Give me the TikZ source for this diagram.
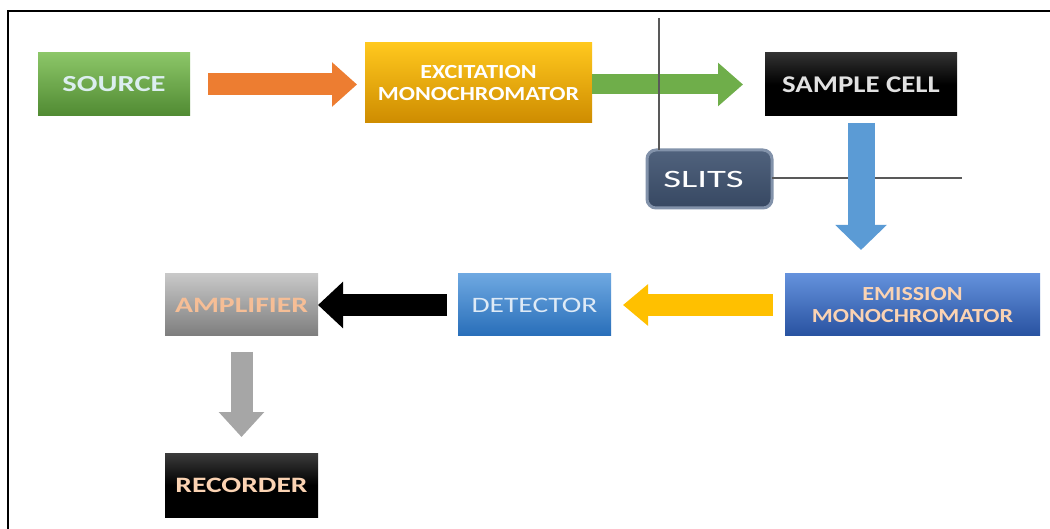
\documentclass[tikz,border=0pt]{standalone}
\usepackage{fontspec}
\setmainfont{Carlito}
\usepackage{graphicx}
\usetikzlibrary{arrows.meta}
\newcommand\hstr[2][1.3]{\scalebox{#1}[1]{#2}}
\definecolor{lineg}{HTML}{595959}
\definecolor{orng}{HTML}{ED7D31}
\definecolor{grn}{HTML}{6FAE4A}
\definecolor{blu}{HTML}{5B9BD5}
\definecolor{yel}{HTML}{FFC000}
\definecolor{gry}{HTML}{A6A6A6}
\definecolor{peach}{HTML}{FBD3B3}
\begin{document}
\begin{tikzpicture}[x=1pt,y=-1pt,
  blk/.style={inner sep=0pt, outer sep=0pt},
  blockarrow/.style 2 args={line width=#1, -{Triangle[width=#2, length=25pt]}},
  guide/.style={draw=lineg, line width=2pt}]
\useasboundingbox (0,0) rectangle (1050,529);
\fill[white] (0,0) rectangle (1050,529);
\draw[line width=2.6pt] (8,529) -- (8,11) -- (1050,11);

% boxes
\node[blk, minimum width=152pt, minimum height=63pt,
  top color={rgb,255:red,140;green,198;blue,104}, bottom color={rgb,255:red,80;green,138;blue,50},
  text={rgb,255:red,220;green,238;blue,240}, font=\bfseries\fontsize{23}{26}\selectfont] (source) at (114,84.5) {\hstr[1.33]{SOURCE}};

\node[blk, minimum width=227pt, minimum height=80pt,
  top color={rgb,255:red,255;green,200;blue,30}, bottom color={rgb,255:red,206;green,140;blue,0},
  text=white, align=center, font=\bfseries\fontsize{20}{22}\selectfont] (exc) at (478.5,83) {\hstr[1.2]{EXCITATION}\\\hstr[1.2]{MONOCHROMATOR}};

\node[blk, minimum width=192pt, minimum height=63pt,
  top color={rgb,255:red,50;green,50;blue,50}, bottom color=black, middle color=black,
  text={rgb,255:red,225;green,225;blue,225}, font=\bfseries\fontsize{24}{26}\selectfont] (sample) at (861,84.5) {\hstr[1.2]{SAMPLE CELL}};

\coordinate (vtop) at (659,18);
\coordinate (hend) at (962,178);

\node[blk, minimum width=125pt, minimum height=58pt, rounded corners=9pt,
  draw={rgb,255:red,130;green,146;blue,170}, line width=3pt,
  top color={rgb,255:red,80;green,98;blue,125}, bottom color={rgb,255:red,55;green,72;blue,98},
  text=white, font=\fontsize{25}{28}\selectfont] (slits) at (709.5,179) {\hstr[1.55]{SLITS}\hspace*{12pt}};

\node[blk, minimum width=255pt, minimum height=62pt,
  top color={rgb,255:red,100;green,145;blue,220}, bottom color={rgb,255:red,40;green,82;blue,160},
  text=peach, align=center, font=\bfseries\fontsize{20}{22}\selectfont] (emis) at (912.5,305) {\hstr[1.2]{EMISSION}\\\hstr[1.2]{MONOCHROMATOR}};

\node[blk, minimum width=153pt, minimum height=62pt,
  top color={rgb,255:red,110;green,168;blue,225}, bottom color={rgb,255:red,40;green,110;blue,185},
  text={rgb,255:red,222;green,234;blue,246}, font=\fontsize{22}{24}\selectfont] (det) at (534.5,305) {\hstr[1.34]{DETECTOR}};

\node[blk, minimum width=153pt, minimum height=62pt,
  top color={rgb,255:red,200;green,200;blue,200}, bottom color={rgb,255:red,125;green,125;blue,125},
  text={rgb,255:red,246;green,190;blue,150}, font=\bfseries\fontsize{22}{24}\selectfont] (amp) at (241.5,305) {\hstr[1.35]{AMPLIFIER}};

\node[blk, minimum width=153pt, minimum height=64pt,
  top color={rgb,255:red,60;green,60;blue,60}, bottom color=black, middle color=black,
  text=peach, font=\bfseries\fontsize{22}{24}\selectfont] (rec) at (241.5,485) {\hstr[1.34]{RECORDER}};

% connectors
\draw[blockarrow={22pt}{43pt}, draw=orng, shorten <=18pt, shorten >=8pt] (source.east) -- (source.east -| exc.west);
\draw[blockarrow={20pt}{42pt}, draw=grn, shorten >=22pt] (exc.east |- sample.west) -- (sample.west);
\draw[guide] (vtop) -- (vtop |- slits.north);
\draw[guide] (slits.east |- hend) -- (hend);
\draw[blockarrow={27pt}{50pt}, draw=blu, shorten <=7pt, shorten >=24pt] (sample.south) -- (sample.south |- emis.north);
\draw[blockarrow={22pt}{40pt}, draw=yel, shorten <=12pt, shorten >=12pt] (emis.west) -- (det.east);
\draw[blockarrow={22pt}{45pt}, draw=black, shorten <=11pt] (det.west) -- (amp.east);
\draw[blockarrow={22pt}{44pt}, draw=gry, shorten <=16pt, shorten >=16pt] (amp.south) -- (rec.north);
\end{tikzpicture}
\end{document}
